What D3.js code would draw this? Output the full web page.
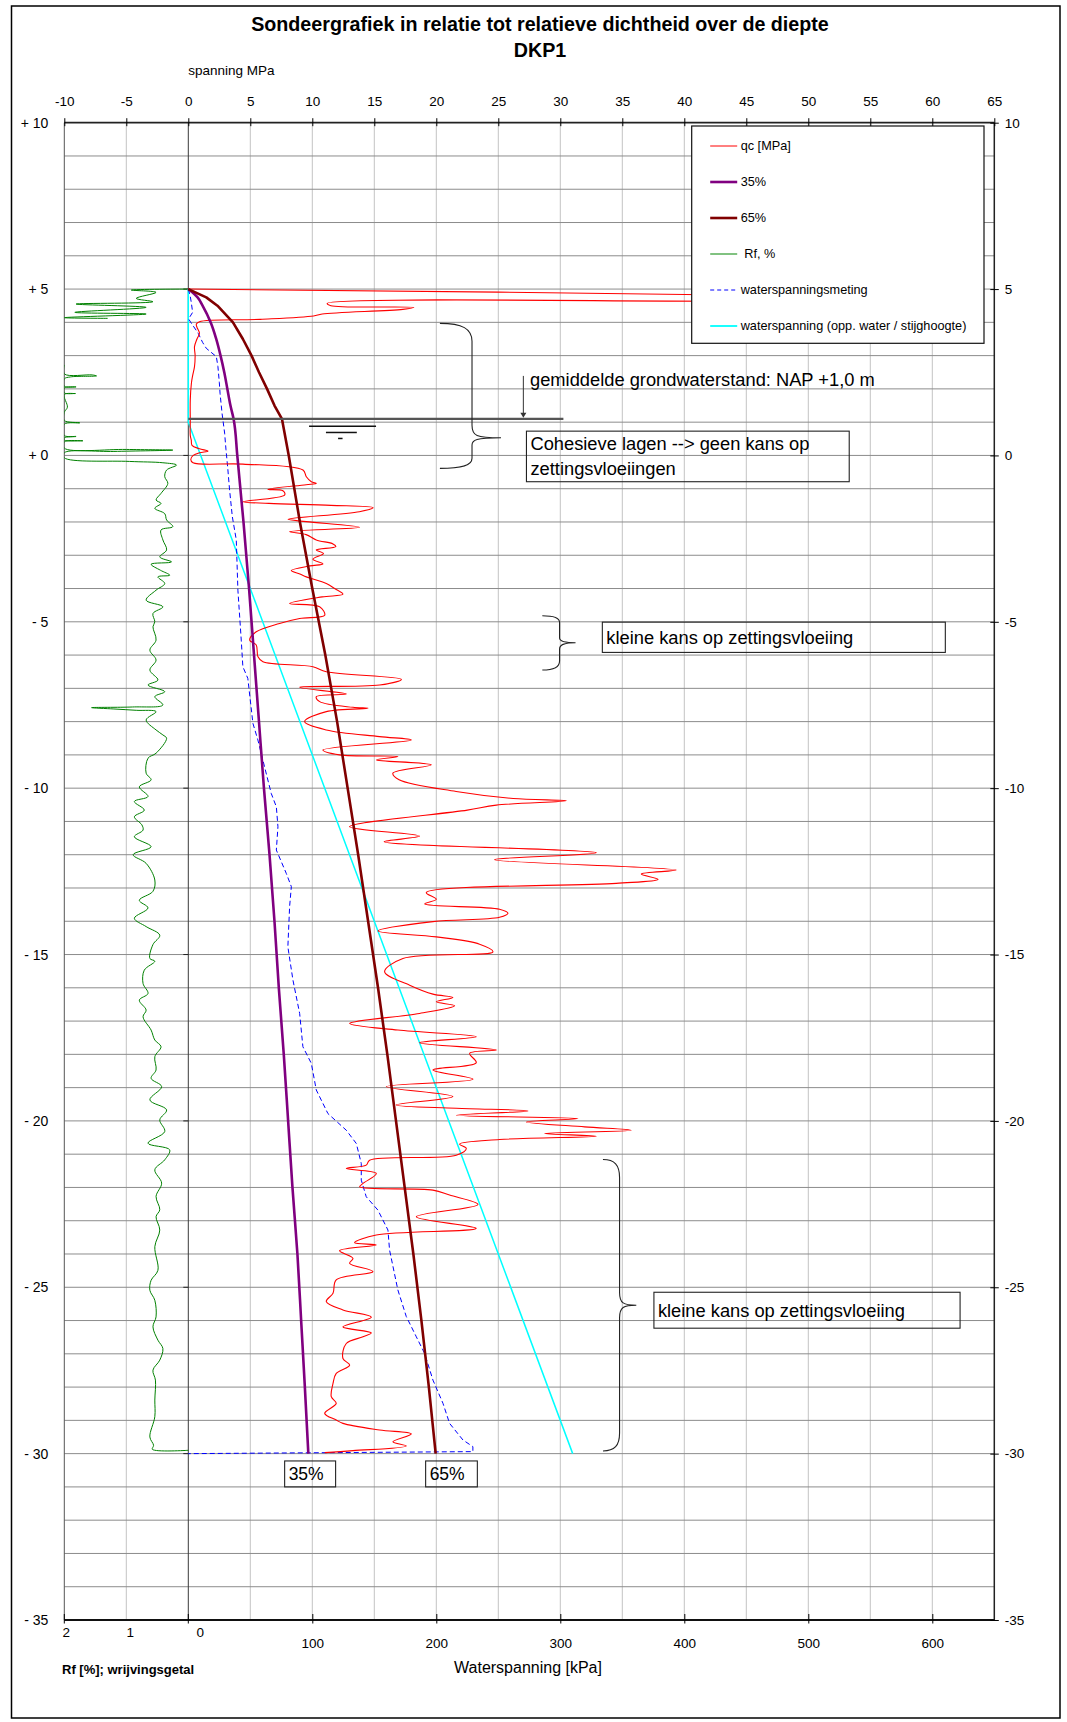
<!DOCTYPE html>
<html>
<meta charset="utf-8">
<script src="https://d3js.org/d3.v7.min.js"></script>
<style>
    body { margin: 0; background: #fff; }
    svg text { font-family: "Liberation Sans", Arial, sans-serif; fill: #000; }
</style>
<body>
<svg id="chart" width="1067" height="1722"></svg>
<script>
    // ---------- data (depth in m NAP, qc in MPa, Rf in %, water pressure in kPa) ----------
    const qcDepth = [
        5.0, 4.8, 4.72, 4.64, 4.57, 4.5, 4.45, 4.39, 4.25, 4.19,
        4.09, 4.02, 3.95, 3.85, 3.67, 3.5, 3.27, 3.0, 2.67, 2.4,
        2.17, 1.67, 1.0, 0.6, 0.46, 0.3, 0.2, 0.13, 0.08, 0.0,
        -0.12, -0.22, -0.26, -0.44, -0.64, -0.79, -0.84, -0.88, -1.02, -1.06,
        -1.19, -1.39, -1.44, -1.5, -1.57, -1.69, -1.92, -1.99, -2.16, -2.29,
        -2.38, -2.54, -2.66, -2.74, -2.84, -2.95, -3.12, -3.26, -3.32, -3.46,
        -3.56, -3.65, -3.85, -4.0, -4.17, -4.25, -4.45, -4.55, -4.8, -4.9,
        -5.05, -5.3, -5.55, -5.7, -6.05, -6.2, -6.35, -6.5, -6.73, -6.9,
        -6.97, -7.17, -7.25, -7.4, -7.57, -7.6, -7.7, -8.0, -8.25, -8.45,
        -8.55, -8.85, -9.0, -9.05, -9.15, -9.3, -9.55, -9.75, -10.1, -10.31,
        -10.38, -10.51, -10.66, -11.16, -11.44, -11.61, -11.94, -12.15, -12.46, -12.58,
        -12.74, -12.86, -13.14, -13.34, -13.48, -13.64, -13.76, -13.88, -14.01, -14.29,
        -14.47, -14.69, -14.92, -15.12, -15.52, -15.92, -16.19, -16.29, -16.42, -16.54,
        -16.77, -17.07, -17.27, -17.47, -17.65, -17.87, -17.97, -18.25, -18.47, -18.75,
        -18.97, -19.27, -19.52, -19.62, -19.7, -19.83, -19.93, -20.03, -20.18, -20.28,
        -20.38, -20.46, -20.56, -20.7, -20.83, -21.03, -21.18, -21.33, -21.43, -21.58,
        -21.88, -21.98, -22.08, -22.23, -22.51, -22.88, -23.23, -23.43, -23.66, -23.73,
        -23.9, -24.13, -24.28, -24.53, -24.78, -25.18, -25.43, -25.68, -25.9, -26.19,
        -26.37, -26.49, -26.69, -27.14, -27.34, -27.59, -27.89, -28.29, -28.49, -28.79,
        -28.99, -29.09, -29.29, -29.41, -29.64, -29.77, -29.91, -29.97
    ];
    const qcValue = [
        0, 48, 56, 46, 11.2, 11.5, 18.2, 17.3, 10.8, 10.1,
        5.8, 0.9, 0.65, 0.7, 0.9, 0.7, 0.5, 0.55, 0.5, 0.35,
        0.25, 0.16, 0.16, 0.16, 0.24, 0.3, 0.9, 1.58, 0.9, 0.4,
        0.2, 0.38, 4.41, 9.25, 9.52, 9.92, 10.32, 9.5, 6.42, 7.63,
        7.77, 4.41, 6.5, 11.5, 14.9, 13.8, 8.04, 9.52, 13.82, 8.17,
        9.5, 10.32, 11.67, 11.9, 10.32, 10.9, 10.05, 10.86, 9.8, 8.3,
        9.0, 9.52, 11.13, 11.8, 12.47, 10.8, 8.17, 10.59, 11.0, 8.98,
        7.36, 5.48, 4.95, 5.48, 5.62, 6.02, 10.05, 11.13, 17.18, 15.43,
        8.98, 12.74, 10.32, 10.6, 13.28, 14.49, 11.13, 9.38, 11.13, 15.43,
        17.98, 10.86, 12.2, 16.9, 15.16, 19.6, 16.5, 17.0, 21.6, 26.2,
        30.48, 24.84, 22.5, 13.0, 18.65, 15.8, 32.9, 24.7, 39.35, 36.53,
        37.88, 34.5, 19.19, 20.0, 19.06, 25.1, 25.78, 25.1, 19.73, 15.3,
        20.0, 23.49, 24.57, 17.31, 15.83, 17.85, 19.73, 21.34, 20.0, 21.48,
        18.65, 13.01, 16.9, 23.22, 18.65, 24.84, 22.69, 23.22, 19.73, 22.96,
        15.97, 21.34, 16.77, 21.61, 27.39, 21.61, 31.42, 27.26, 31.96, 35.72,
        28.74, 32.9, 25.1, 21.88, 22.42, 21.61, 14.62, 14.35, 12.74, 15.16,
        14.09, 13.82, 19.73, 21.07, 23.36, 18.39, 23.22, 15.16, 13.41, 15.16,
        12.2, 13.28, 13.01, 14.89, 11.93, 11.67, 11.13, 12.47, 14.76, 12.47,
        14.76, 14.09, 12.74, 12.47, 13.01, 11.93, 11.67, 11.53, 11.93, 11.0,
        11.93, 12.47, 15.43, 17.98, 16.5, 17.58, 13.28, 11.0
    ];

    // relative density lines
    const relDepth = [5, 4.75, 4.5, 4, 3.5, 3, 2.5, 2, 1.5, 1.1, 0, -2, -4, -6, -8, -10, -12, -14, -16, -18, -20, -22, -24, -26, -28, -30];
    const rel35 = [0, 0.75, 1.15, 1.8, 2.25, 2.6, 2.9, 3.15, 3.4, 3.65, 3.95, 4.45, 4.9, 5.3, 5.7, 6.1, 6.55, 6.95, 7.3, 7.7, 8.05, 8.4, 8.8, 9.1, 9.4, 9.68];
    const rel65 = [0, 1.45, 2.35, 3.6, 4.4, 5.1, 5.7, 6.35, 6.95, 7.55, 8.1, 9.0, 10.0, 11.05, 12.0, 12.85, 13.7, 14.5, 15.3, 16.05, 16.75, 17.45, 18.15, 18.8, 19.4, 19.95];

    // friction ratio (null = no reading)
    const rfDepth = [
        5.0, 4.97, 4.9, 4.72, 4.62, 4.55, 4.45, 4.3, 4.25, 4.14,
        4.12, 3.0, 2.72, 2.45, 2.42, 2.39, 2.36, 2.3, 2.08, 2.06,
        2.03, 1.88, 1.86, 1.83, 1.45, 1.3, 1.05, 0.98, 0.94, 0.6,
        0.57, 0.53, 0.46, 0.44, 0.41, 0.22, 0.18, 0.16, 0.12, 0.08,
        -0.07, -0.18, -0.22, -0.29, -0.44, -0.64, -0.84, -1.14, -1.34, -1.44,
        -1.59, -1.75, -1.94, -2.14, -2.24, -2.54, -2.84, -3.05, -3.2, -3.27,
        -3.45, -3.6, -3.65, -3.85, -4.05, -4.35, -4.55, -4.75, -5.0, -5.15,
        -5.55, -5.85, -6.15, -6.45, -6.75, -6.9, -7.1, -7.25, -7.5, -7.56,
        -7.58, -7.62, -7.66, -7.7, -7.95, -8.25, -8.4, -8.5, -8.95, -9.1,
        -9.55, -9.75, -9.96, -10.25, -10.4, -10.66, -10.86, -11.1, -11.26, -11.46,
        -11.76, -12.0, -12.26, -12.76, -13.1, -13.37, -13.6, -13.91, -14.16, -14.42,
        -14.7, -15.12, -15.2, -15.47, -15.87, -16.17, -16.37, -16.67, -16.87, -17.27,
        -17.57, -17.77, -18.07, -18.47, -18.72, -18.97, -19.37, -19.67, -19.97, -20.32,
        -20.67, -20.87, -21.17, -21.47, -21.87, -22.27, -22.67, -22.88, -23.28, -23.78,
        -24.49, -24.79, -25.09, -25.39, -25.89, -26.19, -26.59, -26.84, -27.19, -27.49,
        -27.79, -28.39, -28.89, -29.5, -29.75, -29.87, -29.9
    ];
    const rfValue = [
        0, 0.92, 0.52, 0.84, 0.57, 1.81, 0.68, 1.83, 0.68, 2.0,
        1.3, null, 2.0, 2.0, 1.55, 1.48, 1.9, 2.0, 2.0, 1.81,
        2.0, 2.0, 1.82, 2.0, 1.95, 2.0, 2.0, 1.75, 2.0, 2.0,
        1.81, 2.0, 2.0, 1.7, 2.0, 2.0, 1.0, 0.25, 1.2, 2.0,
        2.0, 0.95, 0.41, 0.19, 0.35, 0.38, 0.33, 0.44, 0.52, 0.44,
        0.54, 0.38, 0.35, 0.25, 0.44, 0.41, 0.35, 0.46, 0.27, 0.6,
        0.45, 0.3, 0.49, 0.38, 0.52, 0.68, 0.41, 0.57, 0.54, 0.57,
        0.52, 0.62, 0.52, 0.62, 0.49, 0.65, 0.38, 0.54, 0.41, 0.9,
        1.56, 1.2, 0.84, 0.52, 0.68, 0.52, 0.41, 0.35, 0.52, 0.65,
        0.68, 0.6, 0.79, 0.65, 0.87, 0.71, 0.87, 0.75, 0.73, 0.87,
        0.6, 0.89, 0.68, 0.54, 0.57, 0.79, 0.65, 0.87, 0.68, 0.46,
        0.57, 0.62, 0.54, 0.71, 0.73, 0.65, 0.79, 0.68, 0.73, 0.6,
        0.54, 0.44, 0.54, 0.52, 0.6, 0.43, 0.62, 0.35, 0.46, 0.38,
        0.65, 0.3, 0.38, 0.54, 0.43, 0.52, 0.46, 0.52, 0.46, 0.54,
        0.49, 0.6, 0.62, 0.54, 0.52, 0.57, 0.49, 0.41, 0.46, 0.57,
        0.53, 0.54, 0.54, 0.62, 0.56, 0.58, 0
    ];

    // measured pore water pressure (kPa)
    const wsMeetDepth = [
        5.0, 4.8, 4.6, 4.3, 4.15, 4.1, 4.0, 3.67, 3.4, 3.22,
        2.97, 2.67, 2.2, 1.87, 1.27, 0.67, 0.17, -0.33, -1.04, -1.84,
        -2.54, -4.05, -5.55, -6.35, -6.7, -8.05, -8.55, -9.36, -10.16, -10.56,
        -11.16, -11.86, -12.56, -12.96, -13.56, -14.77, -15.77, -16.77, -17.77, -18.27,
        -19.07, -19.78, -20.28, -20.68, -21.28, -21.78, -22.28, -22.68, -23.28, -23.88,
        -25.08, -25.88, -26.49, -26.99, -27.79, -28.49, -29.09, -29.59, -29.79, -29.94,
        -30.0
    ];
    const wsMeetKpa = [
        0, 1.5, 2.4, 3.5, 1.0, 0.3, 2.0, 8, 11.5, 14.5,
        22.6, 23.9, 25, 25.6, 27.2, 29.3, 30.4, 31.7, 33.3, 35.5,
        38.7, 40, 42.7, 44, 48, 52.1, 56.1, 61.5, 66.9, 71,
        72.3, 71, 79, 83.1, 81.7, 80.3, 84.4, 89.8, 92.4, 99.2,
        103.2, 112.6, 127.4, 135.5, 139.5, 139.5, 143.5, 152.9, 161, 162.3,
        169, 175.8, 183.9, 190.6, 197.3, 205.4, 210.7, 221.5, 229.5, 229.5,
        0
    ];

    // hydrostatic water pressure (kPa)
    const hydroDepth = [5, 1, -30];
    const hydroKpa = [0, 0, 310];

    const groundwater = 1.1;
    const mpaTicks = d3.range(-10, 66, 5);
    const depthTicks = d3.range(10, -36, -5);
    const kpaTicks = [100, 200, 300, 400, 500, 600];
    const rfTicks = [2, 1, 0];

    // ---------- layout ----------
    const W = 1067, H = 1722;
    const margin = { top: 122.7, right: 72.7, bottom: 102, left: 64.3 };
    const svg = d3.select("#chart");

    const x = d3.scaleLinear().domain([-10, 65]).range([margin.left, W - margin.right]);
    const y = d3.scaleLinear().domain([10, -35]).range([margin.top, H - margin.bottom]);
    const xKpa = d3.scaleLinear().domain([-100, 650]).range(x.range());
    const xRf = d3.scaleLinear().domain([2, 0]).range([x(-10), x(0)]);

    const font = '"Liberation Sans", Arial, sans-serif';

    // outer frame
    svg.append("rect").attr("x", 11.5).attr("y", 6).attr("width", 1048.5).attr("height", 1712)
        .attr("fill", "none").attr("stroke", "#000").attr("stroke-width", 1.5);

    // titles
    svg.append("text").attr("x", 540).attr("y", 31).attr("text-anchor", "middle")
        .style("font-size", "19.7px").style("font-weight", "bold")
        .text("Sondeergrafiek in relatie tot relatieve dichtheid over de diepte");
    svg.append("text").attr("x", 540).attr("y", 57).attr("text-anchor", "middle")
        .style("font-size", "19.7px").style("font-weight", "bold").text("DKP1");
    svg.append("text").attr("x", x(0)).attr("y", 75).style("font-size", "13.5px").text("spanning MPa");

    // grid
    const grid = svg.append("g");
    grid.selectAll("line.vgrid").data(d3.range(-5, 65, 5).filter(v => v !== 0)).join("line")
        .attr("class", "vgrid")
        .attr("x1", d => x(d)).attr("x2", d => x(d)).attr("y1", y(10)).attr("y2", y(-35))
        .attr("stroke", "#c4c4c4").attr("stroke-width", 1);
    grid.selectAll("line.hgrid").data(d3.range(9, -35, -1)).join("line")
        .attr("class", "hgrid")
        .attr("x1", x(-10)).attr("x2", x(65)).attr("y1", d => y(d)).attr("y2", d => y(d))
        .attr("stroke", "#8c8c8c").attr("stroke-width", 1);

    // zero line (MPa / kPa origin)
    svg.append("line").attr("x1", x(0)).attr("x2", x(0)).attr("y1", y(10)).attr("y2", y(-35))
        .attr("stroke", "#3a3a3a").attr("stroke-width", 1);
    svg.selectAll("line.ztick").data(depthTicks.slice(1, -1)).join("line").attr("class", "ztick")
        .attr("x1", x(0) - 5).attr("x2", x(0)).attr("y1", d => y(d)).attr("y2", d => y(d))
        .attr("stroke", "#222");

    // plot frame lines
    svg.append("line").attr("x1", x(-10)).attr("x2", x(-10)).attr("y1", y(10)).attr("y2", y(-35))
        .attr("stroke", "#555").attr("stroke-width", 1);
    svg.append("line").attr("x1", x(65)).attr("x2", x(65)).attr("y1", y(10)).attr("y2", y(-35))
        .attr("stroke", "#222").attr("stroke-width", 1.5);
    svg.append("line").attr("x1", x(-10)).attr("x2", x(65)).attr("y1", y(10)).attr("y2", y(10))
        .attr("stroke", "#222").attr("stroke-width", 1.8);
    svg.append("line").attr("x1", x(-10)).attr("x2", x(65)).attr("y1", y(-35)).attr("y2", y(-35))
        .attr("stroke", "#111").attr("stroke-width", 1.8);

    function styleAxis(g, size) {
        g.select(".domain").remove();
        g.selectAll("text").style("font-family", font).style("font-size", size).attr("fill", "#000");
        g.selectAll(".tick line").attr("stroke", "#000");
    }

    // top MPa axis
    svg.append("g").attr("transform", `translate(0,${y(10)})`)
        .call(d3.axisTop(x).tickValues(mpaTicks).tickFormat(d => String(d)).tickSize(4.5).tickPadding(12))
        .call(g => styleAxis(g, "13.5px"))
        .call(g => g.selectAll(".tick line").attr("y1", 3.5));

    // left depth labels
    svg.append("g").attr("transform", `translate(${x(-10)},0)`)
        .call(d3.axisLeft(y).tickValues(depthTicks).tickSize(0).tickPadding(16)
            .tickFormat(d => (d >= 0 ? "+ " : "- ") + Math.abs(d)))
        .call(g => styleAxis(g, "14px"));

    // right depth axis
    svg.append("g").attr("transform", `translate(${x(65)},0)`)
        .call(d3.axisRight(y).tickValues(depthTicks).tickSize(4.5).tickPadding(6)
            .tickFormat(d => String(d)))
        .call(g => styleAxis(g, "13.5px"))
        .call(g => g.selectAll(".tick line").attr("x1", -4));

    // bottom kPa axis
    svg.append("g").attr("transform", `translate(0,${y(-35)})`)
        .call(d3.axisBottom(xKpa).tickValues(kpaTicks).tickSize(3.5).tickPadding(15))
        .call(g => styleAxis(g, "13.5px"))
        .call(g => g.selectAll(".tick line").attr("y1", -6));
    svg.selectAll("line.btick").data([xKpa(0), x(-10)]).join("line").attr("class", "btick")
        .attr("x1", d => d).attr("x2", d => d).attr("y1", y(-35) - 6).attr("y2", y(-35) + 3.5)
        .attr("stroke", "#000");

    // Rf labels (bottom left)
    const rfNudge = [2, 4, 12];
    svg.selectAll("text.rflab").data(rfTicks).join("text").attr("class", "rflab")
        .attr("x", (d, i) => xRf(d) + rfNudge[i]).attr("y", y(-35) + 12).attr("dy", "0.35em")
        .attr("text-anchor", "middle").style("font-size", "13.5px").text(d => String(d));

    svg.append("text").attr("x", 62).attr("y", 1669).attr("dy", "0.35em")
        .style("font-size", "13px").style("font-weight", "bold").text("Rf [%]; wrijvingsgetal");
    svg.append("text").attr("x", 528).attr("y", 1667).attr("dy", "0.35em").attr("text-anchor", "middle")
        .style("font-size", "16px").text("Waterspanning [kPa]");

    // ---------- data lines ----------
    svg.append("clipPath").attr("id", "plotclip").append("rect")
        .attr("x", x(-10)).attr("y", y(10)).attr("width", x(65) - x(-10)).attr("height", y(-35) - y(10));
    const plot = svg.append("g").attr("clip-path", "url(#plotclip)");

    const pts = (depths, vals) => d3.zip(depths, vals).map(([d, v]) => ({ d, v }));
    const lineOn = (sx, curve) => d3.line().defined(p => p.v !== null)
        .x(p => sx(p.v)).y(p => y(p.d)).curve(curve || d3.curveLinear);
    const smooth = d3.curveCatmullRom.alpha(0.5);

    const series = [
        { data: pts(rfDepth, rfValue), sx: xRf, color: "#008000", width: 1, curve: smooth },
        { data: pts(hydroDepth, hydroKpa), sx: xKpa, color: "#00ffff", width: 1.5 },
        { data: pts(wsMeetDepth, wsMeetKpa), sx: xKpa, color: "#0000ff", width: 1, dash: "5,3" },
        { data: pts(qcDepth, qcValue), sx: x, color: "#ff0000", width: 1.1, curve: smooth },
        { data: pts(relDepth, rel35), sx: x, color: "#800080", width: 2.6, curve: d3.curveMonotoneY },
        { data: pts(relDepth, rel65), sx: x, color: "#800000", width: 2.6 }
    ];
    plot.selectAll("path.series").data(series).join("path").attr("class", "series")
        .attr("d", s => lineOn(s.sx, s.curve)(s.data))
        .attr("fill", "none").attr("stroke", s => s.color).attr("stroke-width", s => s.width)
        .attr("stroke-dasharray", s => s.dash || null).attr("stroke-linejoin", "round");

    // ---------- annotations ----------
    const ann = svg.append("g");

    // groundwater level
    ann.append("line").attr("x1", x(0)).attr("x2", x(30.25)).attr("y1", y(groundwater)).attr("y2", y(groundwater))
        .attr("stroke", "#555").attr("stroke-width", 2.2);
    ann.append("line").attr("x1", x(27.02)).attr("x2", x(27.02)).attr("y1", y(2.39)).attr("y2", y(groundwater) - 5)
        .attr("stroke", "#333").attr("stroke-width", 1);
    ann.append("path")
        .attr("d", `M${x(27.02) - 3},${y(groundwater) - 6} L${x(27.02) + 3},${y(groundwater) - 6} L${x(27.02)},${y(groundwater) - 1} Z`)
        .attr("fill", "#333");
    ann.append("text").attr("x", x(27.56)).attr("y", y(2.27)).attr("dy", "0.35em")
        .style("font-size", "18.3px").text("gemiddelde grondwaterstand: NAP +1,0 m");

    // water table symbol
    [[0.88, 9.74, 15.14], [0.69, 11.1, 13.59], [0.51, 12.08, 12.44]].forEach(([d, a, b]) => {
        ann.append("line").attr("x1", x(a)).attr("x2", x(b)).attr("y1", y(d)).attr("y2", y(d))
            .attr("stroke", "#111").attr("stroke-width", 1.5);
    });

    function bracePath(x0, x1, x2, y0, ym, y1) {
        const k1 = Math.min(18, (ym - y0) / 4), k2 = Math.min(18, (y1 - ym) / 3);
        const r = x1 - x0;
        return [
            `M${x0},${y0}`,
            `C${x0 + r * 0.7},${y0} ${x1},${y0 + k1 * 0.3} ${x1},${y0 + k1}`,
            `L${x1},${ym - k1 * 0.7}`,
            `C${x1},${ym - 2} ${x1 + 4},${ym} ${x2},${ym}`,
            `C${x1 + 4},${ym} ${x1},${ym + 2} ${x1},${ym + k2 * 0.7}`,
            `L${x1},${y1 - k2}`,
            `C${x1},${y1 - k2 * 0.3} ${x0 + r * 0.7},${y1} ${x0},${y1}`
        ].join(" ");
    }
    const braces = [
        [20.29, 22.88, 25.22, 3.97, 0.53, -0.39],
        [28.55, 29.94, 31.23, -4.82, -5.63, -6.45],
        [33.44, 34.78, 36.13, -21.16, -25.54, -29.92]
    ];
    ann.selectAll("path.brace").data(braces).join("path").attr("class", "brace")
        .attr("d", b => bracePath(x(b[0]), x(b[1]), x(b[2]), y(b[3]), y(b[4]), y(b[5])))
        .attr("fill", "none").attr("stroke", "#222").attr("stroke-width", 1.1);

    // text boxes
    const boxes = [
        { x0: 27.27, x1: 53.3, d0: 0.73, d1: -0.79, lines: ["Cohesieve lagen --> geen kans op", "zettingsvloeiingen"], size: 18.3 },
        { x0: 33.39, x1: 61.05, d0: -5.01, d1: -5.92, lines: ["kleine kans op zettingsvloeiing"], size: 18.3 },
        { x0: 37.55, x1: 62.24, d0: -25.15, d1: -26.23, lines: ["kleine kans op zettingsvloeiing"], size: 18.3 },
        { x0: 7.77, x1: 11.88, d0: -30.22, d1: -31.0, lines: ["35%"], size: 17.5 },
        { x0: 19.14, x1: 23.31, d0: -30.22, d1: -31.0, lines: ["65%"], size: 17.5 }
    ];
    boxes.forEach(b => {
        const bx = x(b.x0), by = y(b.d0), bw = x(b.x1) - x(b.x0), bh = y(b.d1) - y(b.d0);
        ann.append("rect").attr("x", bx).attr("y", by).attr("width", bw).attr("height", bh)
            .attr("fill", "none").attr("stroke", "#222").attr("stroke-width", 1.1);
        const lh = bh / b.lines.length;
        b.lines.forEach((t, i) => {
            ann.append("text").attr("x", bx + 4).attr("y", by + lh * (i + 0.5)).attr("dy", "0.35em")
                .style("font-size", b.size + "px").text(t);
        });
    });

    // ---------- legend ----------
    const legendItems = [
        { label: "qc [MPa]", color: "#ff0000", width: 1 },
        { label: "35%", color: "#800080", width: 2.6 },
        { label: "65%", color: "#800000", width: 2.6 },
        { label: " Rf, %", color: "#2e9a2e", width: 1.2 },
        { label: "waterspanningsmeting", color: "#0000ff", width: 1, dash: "4,3" },
        { label: "waterspanning (opp. water / stijghoogte)", color: "#00ffff", width: 1.8 }
    ];
    const legend = svg.append("g").attr("transform", "translate(691.7,126)");
    legend.append("rect").attr("width", 292.3).attr("height", 217.3)
        .attr("fill", "#fff").attr("stroke", "#111").attr("stroke-width", 1.2);
    const li = legend.selectAll("g.item").data(legendItems).join("g").attr("class", "item")
        .attr("transform", (d, i) => `translate(0,${20 + i * 36})`);
    li.append("line").attr("x1", 18.5).attr("x2", 45.5)
        .attr("stroke", d => d.color).attr("stroke-width", d => d.width).attr("stroke-dasharray", d => d.dash || null);
    li.append("text").attr("x", 49).attr("dy", "0.35em").style("font-size", "12.7px")
        .style("white-space", "pre").attr("xml:space", "preserve").text(d => d.label);
</script>
</body>
</html>
